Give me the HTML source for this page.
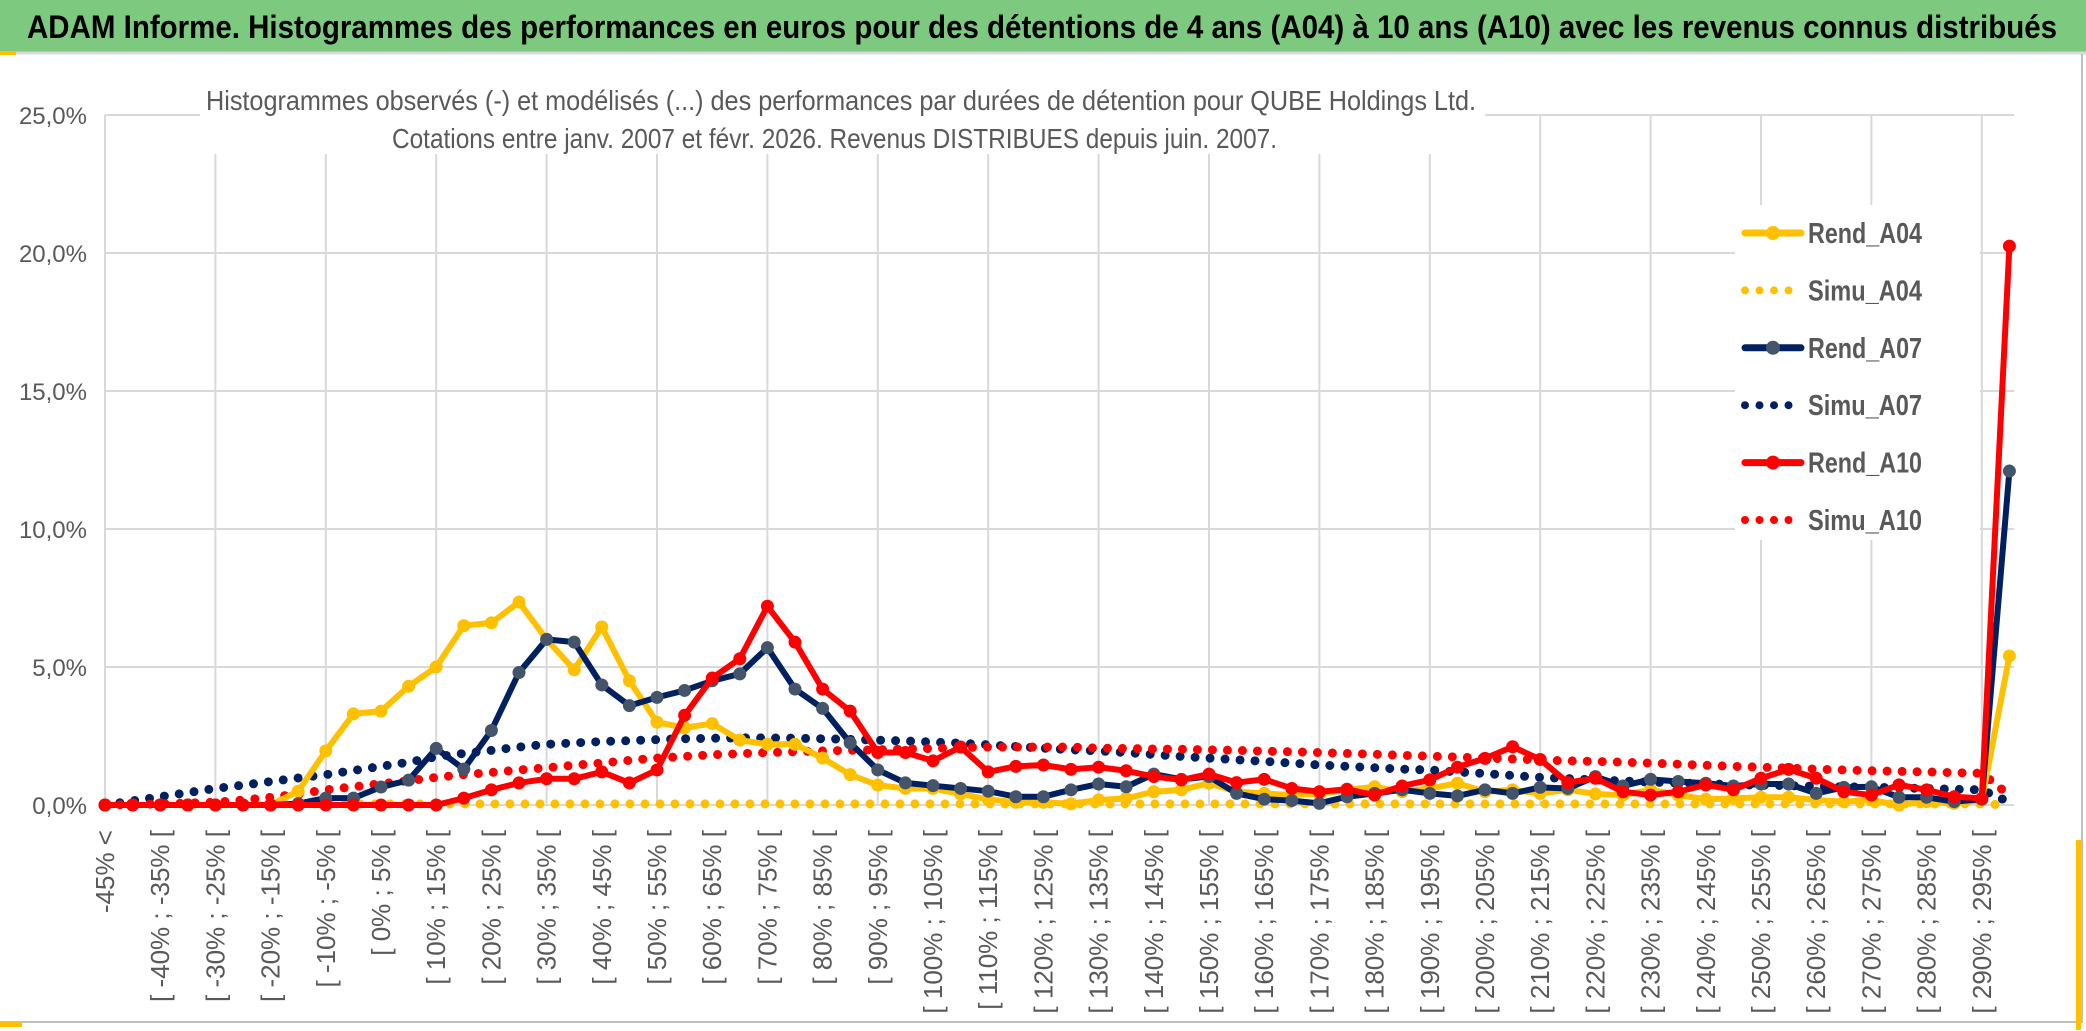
<!DOCTYPE html>
<html><head><meta charset="utf-8"><style>
html,body{margin:0;padding:0;background:#fff;}
svg{display:block;font-family:"Liberation Sans Narrow","Liberation Sans",sans-serif;}
</style></head><body>
<svg id="chart" width="2086" height="1031" viewBox="0 0 2086 1031" xmlns="http://www.w3.org/2000/svg">
<rect x="0" y="0" width="2086" height="1031" fill="#fff"/>
<rect x="0" y="0" width="2086" height="52" fill="#7DC97F"/>
<line x1="0" y1="53" x2="2086" y2="53" stroke="#d9d9d9" stroke-width="3"/>
<rect x="0" y="51" width="16" height="4" fill="#FFC000"/>
<text x="27" y="38" font-size="32" font-weight="bold" fill="#000" textLength="2030" lengthAdjust="spacingAndGlyphs">ADAM Informe. Histogrammes des performances en euros pour des détentions de 4 ans (A04) à 10 ans (A10) avec les revenus connus distribués</text>
<rect x="0" y="1021" width="2083" height="2" fill="#bfbfbf"/>
<rect x="2081" y="54" width="2" height="969" fill="#bfbfbf"/>
<rect x="0" y="1022" width="22" height="5" fill="#FFC000"/>
<rect x="2076" y="840" width="5" height="190" fill="#FFC000"/>
<g id="grid"></g>
<g id="yaxis"></g>
<g id="xaxis"></g>
<rect x="200" y="72" width="1285" height="82" fill="#fff"/>
<text x="206" y="110" font-size="28" fill="#595959" textLength="1270" lengthAdjust="spacingAndGlyphs">Histogrammes observés (-) et modélisés (...) des performances par durées de détention pour QUBE Holdings Ltd.</text>
<text x="392" y="148" font-size="28" fill="#595959" textLength="885" lengthAdjust="spacingAndGlyphs">Cotations entre janv. 2007 et févr. 2026. Revenus DISTRIBUES depuis juin. 2007.</text>
<rect x="1735" y="205" width="245" height="335" fill="#fff"/>
<g id="series"></g>
<g id="legend"></g>
</svg>
<script>
const rendA04 = [0,0,0,0,0,0,0,0.5,1.96,3.3,3.4,4.3,5.0,6.5,6.6,7.35,6.0,4.9,6.45,4.5,3.0,2.8,2.95,2.35,2.2,2.2,1.7,1.1,0.72,0.6,0.6,0.4,0.2,0.1,0.1,0.04,0.18,0.24,0.48,0.55,0.79,0.48,0.42,0.36,0.4,0.55,0.66,0.48,0.6,0.79,0.48,0.55,0.42,0.55,0.4,0.36,0.55,0.36,0.21,0.24,0.28,0.28,0.18,0.12,0.18,0.0,0.12,0.06,0.18,5.4];
const rendA07 = [0,0,0,0,0,0,0,0.05,0.25,0.25,0.65,0.9,2.05,1.3,2.7,4.8,6.0,5.9,4.35,3.6,3.9,4.15,4.5,4.75,5.7,4.2,3.5,2.25,1.27,0.8,0.7,0.6,0.5,0.3,0.3,0.55,0.76,0.66,1.12,0.93,1.03,0.42,0.21,0.16,0.06,0.3,0.42,0.55,0.42,0.33,0.55,0.42,0.64,0.6,1.03,0.69,0.93,0.85,0.79,0.69,0.76,0.76,0.42,0.64,0.66,0.28,0.28,0.12,0.21,12.1];
const rendA10 = [0,0,0,0,0,0,0,0,0,0,0,0,0,0.25,0.55,0.8,0.95,0.95,1.2,0.8,1.27,3.25,4.6,5.3,7.2,5.9,4.2,3.4,1.9,1.9,1.6,2.1,1.2,1.4,1.45,1.29,1.37,1.24,1.03,0.91,1.12,0.81,0.93,0.6,0.48,0.57,0.36,0.69,0.91,1.37,1.69,2.11,1.65,0.81,0.97,0.48,0.36,0.48,0.73,0.55,0.97,1.29,0.97,0.48,0.36,0.73,0.55,0.3,0.24,20.25];
const simuA04 = [0,0.04,0.04,0.04,0.04,0.04,0.04,0.04,0.04,0.04,0.04,0.04,0.04,0.04,0.04,0.04,0.04,0.04,0.04,0.04,0.04,0.04,0.04,0.04,0.04,0.04,0.04,0.04,0.04,0.04,0.04,0.04,0.04,0.04,0.04,0.04,0.04,0.04,0.04,0.04,0.04,0.04,0.04,0.04,0.04,0.04,0.04,0.04,0.04,0.04,0.04,0.04,0.04,0.04,0.04,0.04,0.04,0.04,0.04,0.04,0.04,0.04,0.04,0.04,0.04,0.04,0.04,0.04,0.04,0.0];
const simuA07 = [0,0.15,0.3,0.45,0.6,0.72,0.85,0.98,1.1,1.25,1.4,1.55,1.75,1.87,1.98,2.1,2.2,2.25,2.3,2.33,2.37,2.4,2.42,2.43,2.43,2.42,2.4,2.38,2.35,2.32,2.28,2.24,2.18,2.12,2.06,2.0,1.96,1.9,1.83,1.76,1.7,1.64,1.58,1.52,1.45,1.4,1.35,1.3,1.27,1.2,1.14,1.07,1.0,0.96,0.91,0.87,0.83,0.8,0.77,0.74,0.72,0.7,0.68,0.66,0.65,0.62,0.6,0.57,0.55,0.1];
const simuA10 = [0,0.02,0.04,0.07,0.1,0.18,0.28,0.4,0.55,0.66,0.77,0.88,1.0,1.1,1.18,1.27,1.35,1.44,1.52,1.62,1.7,1.76,1.82,1.86,1.9,1.93,1.96,1.98,2.0,2.03,2.05,2.08,2.1,2.1,2.1,2.1,2.06,2.05,2.03,2.02,2.0,1.98,1.95,1.93,1.9,1.87,1.84,1.8,1.77,1.74,1.7,1.67,1.63,1.6,1.58,1.55,1.52,1.48,1.44,1.4,1.37,1.34,1.3,1.27,1.24,1.22,1.2,1.17,1.15,0.35];
const yTicks = [0,5,10,15,20,25];
const yTickLabels = ["0,0%","5,0%","10,0%","15,0%","20,0%","25,0%"];
const legendLabels = ["Rend_A04","Simu_A04","Rend_A07","Simu_A07","Rend_A10","Simu_A10"];

function catLabel(i){
  if(i===0) return "-45% <";
  const lo=-45+(i-1)*5, hi=lo+5;
  if(i===69) return "295% >";
  return "[ "+lo+"% ; "+hi+"% [";
}
const NS="http://www.w3.org/2000/svg";
const X0=105, DX=27.6, Y0=805, PX=27.6;
function xs(i){return X0+i*DX;}
function ys(v){return Y0-v*PX;}
function mk(tag,attrs,parent){const e=document.createElementNS(NS,tag);for(const k in attrs)e.setAttribute(k,attrs[k]);parent.appendChild(e);return e;}

const grid=document.getElementById('grid');
yTicks.forEach((t,k)=>{
  const l=mk('line',{x1:X0,x2:2014,y1:ys(t),y2:ys(t),stroke:'#d9d9d9','stroke-width':2},grid);
  
  
});
for(let i=0;i<rendA04.length;i+=4){
  const l=mk('line',{x1:xs(i),x2:xs(i),y1:ys(25),y2:Y0,stroke:'#d9d9d9','stroke-width':2},grid);
  
  
}
const yax=document.getElementById('yaxis');
yTicks.forEach((t,k)=>{
  const tx=mk('text',{x:87,y:ys(t)+9,'font-size':24,fill:'#595959','text-anchor':'end'},yax);
  tx.textContent=yTickLabels[k];
  
  
});
const xax=document.getElementById('xaxis');
for(let i=0;i<rendA04.length;i+=2){
  const x=xs(i)+9, y=830;
  const tx=mk('text',{x:x,y:y,'font-size':26,fill:'#595959','text-anchor':'end',transform:'rotate(-90 '+x+' '+y+')'},xax);
  tx.textContent=catLabel(i);
  
  
}
const ser=document.getElementById('series');
function pts(arr){return arr.map((v,i)=>xs(i)+','+ys(v)).join(' ');}
function dotted(arr,color,name){
  const p=mk('polyline',{points:pts(arr),fill:'none',stroke:color,'stroke-width':9,'stroke-linecap':'round','stroke-dasharray':'0 15'},ser);
  
  
}
function solid(arr,color,mcolor,name){
  const g=mk('g',{},ser);
  
  
  mk('polyline',{points:pts(arr),fill:'none',stroke:color,'stroke-width':6,'stroke-linejoin':'round'},g);
  arr.forEach((v,i)=>{
    const c=mk('circle',{cx:xs(i),cy:ys(v),r:6.5,fill:mcolor},g);
    
    
  });
}
dotted(simuA04,'#FFC000','simu-a04-line');
dotted(simuA07,'#002060','simu-a07-line');
dotted(simuA10,'#FF0000','simu-a10-line');
solid(rendA04,'#FFC000','#FFC000','rend-a04-line');
solid(rendA07,'#002060','#44546A','rend-a07-line');
solid(rendA10,'#FF0000','#FF0000','rend-a10-line');

const leg=document.getElementById('legend');
const legColors=['#FFC000','#FFC000','#002060','#002060','#FF0000','#FF0000'];
const legMark=['#FFC000',null,'#44546A',null,'#FF0000',null];
legendLabels.forEach((lab,k)=>{
  const y=233+k*57.4;
  const g=mk('g',{},leg);
  
  
  if(k%2===0){
    mk('line',{x1:1745,x2:1801,y1:y,y2:y,stroke:legColors[k],'stroke-width':7,'stroke-linecap':'round'},g);
    mk('circle',{cx:1773,cy:y,r:7,fill:legMark[k]},g);
  } else {
    mk('line',{x1:1745,x2:1801,y1:y,y2:y,stroke:legColors[k],'stroke-width':8,'stroke-linecap':'round','stroke-dasharray':'0 14.5'},g);
  }
  const t=mk('text',{x:1808,y:y+10,'font-size':29,'font-weight':'bold',fill:'#595959',textLength:114,lengthAdjust:'spacingAndGlyphs'},g);
  t.textContent=lab;
});
</script>
</body></html>
